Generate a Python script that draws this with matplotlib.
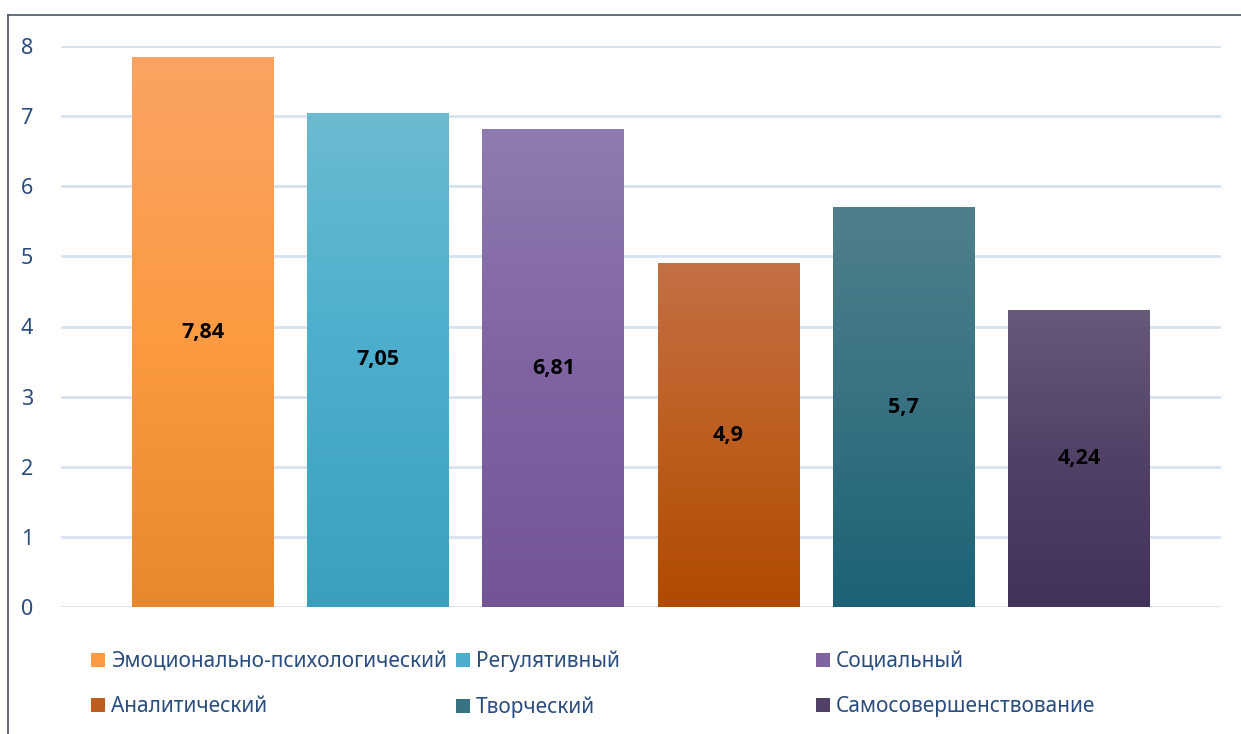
import numpy as np
import matplotlib
matplotlib.use("Agg")
import matplotlib.pyplot as plt
from matplotlib.colors import LinearSegmentedColormap
from matplotlib.patches import Patch
from matplotlib.lines import Line2D

plt.rcParams['font.family'] = ['Noto Sans', 'DejaVu Sans']

categories = ["Эмоционально-психологический", "Регулятивный", "Социальный",
              "Аналитический", "Творческий", "Самосовершенствование"]
values = [7.84, 7.05, 6.81, 4.9, 5.7, 4.24]
labels = ["7,84", "7,05", "6,81", "4,9", "5,7", "4,24"]
yticks = [0, 1, 2, 3, 4, 5, 6, 7, 8]

# gradient stops (top, middle, bottom)
grad = [
    ["#F9A464", "#FD9A42", "#E8882E"],
    ["#6BBBD0", "#4BAECC", "#38A0BD"],
    ["#8F7BB0", "#8064A2", "#735596"],
    ["#C37044", "#BD5E20", "#B24A00"],
    ["#4F7F8B", "#387282", "#1C6276"],
    ["#675978", "#524166", "#42315A"],
]

W, H = 1241, 734
fig = plt.figure(figsize=(W / 100, H / 100), dpi=100)
ax = fig.add_axes([61 / W, (H - 607) / H, (1221 - 61) / W, (607 - 46) / H])

x = np.arange(len(values))
bars = ax.bar(x, values, width=0.81, color='none', edgecolor='none', zorder=3)
g = np.linspace(0, 1, 256).reshape(-1, 1)
for b, stops in zip(bars, grad):
    cmap = LinearSegmentedColormap.from_list("g", stops[::-1])
    x0, y0 = b.get_x(), b.get_y()
    w, h = b.get_width(), b.get_height()
    im = ax.imshow(g, cmap=cmap, extent=[x0, x0 + w, y0, y0 + h],
                   origin='lower', aspect='auto', zorder=3)
    im.set_clip_path(b)

for xi, v, lab in zip(x, values, labels):
    ax.text(xi, v / 2, lab, ha='center', va='center', fontsize=15.5,
            fontweight='bold', color='black', zorder=5,
            family=['Open Sans', 'DejaVu Sans'])

ax.set_xlim(-0.81, 5.81)
ax.set_ylim(0, 8)
ax.set_yticks(yticks)
ax.set_yticklabels([str(t) for t in yticks], fontsize=15.5, color='#2A4C7E')
ax.tick_params(axis='y', length=0, pad=20)
ax.set_xticks([])
ax.grid(axis='y', color='#D6E2F1', linewidth=2, zorder=0)
for s in ax.spines.values():
    s.set_visible(False)

# border
fig.add_artist(Line2D([8 / W, 8 / W], [0, (H - 15) / H], color='#4A5566', lw=1.2,
                      transform=fig.transFigure))
fig.add_artist(Line2D([8 / W, 1.0], [(H - 15) / H, (H - 15) / H], color='#4A5566', lw=1.2,
                      transform=fig.transFigure))

# legend in three columns
cols = [(0, 3), (1, 4), (2, 5)]
col_x = [91, 456, 816]
for (i, j), cx in zip(cols, col_x):
    handles = [Patch(facecolor=grad[i][1], edgecolor='none'),
               Patch(facecolor=grad[j][1], edgecolor='none')]
    leg = fig.legend(handles, [categories[i], categories[j]], loc='upper left',
                     bbox_to_anchor=(cx / W, (H - 651) / H), frameon=False,
                     fontsize=15, handlelength=0.65, handleheight=0.65,
                     handletextpad=0.3, labelspacing=1.15, borderaxespad=0,
                     borderpad=0)
    for t in leg.get_texts():
        t.set_color('#2A4C7E')

fig.savefig("out.png", dpi=100)
